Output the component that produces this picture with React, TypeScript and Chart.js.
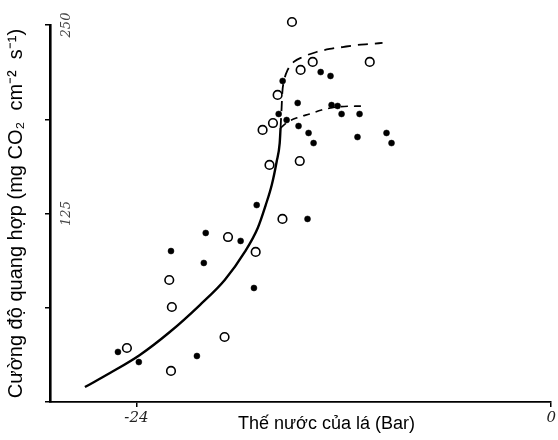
import React, { useEffect, useRef } from 'react';
import { Chart, registerables } from 'chart.js';

Chart.register(...registerables);

// Axis ticks
const xTickValues = [-24, 0];
const xTickLabels = ['-24', '0'];
const yTickValues = [0, 62.5, 125, 187.5, 250];
const yTickLabels = ['', '', '125', '', '250'];

const xTitle = 'Thế nước của lá (Bar)';
const yTitle = 'Cường độ quang hợp (mg CO₂  cm⁻²  s⁻¹)';

// Open circles (leaf water potential, photosynthesis rate)
const openX = [-15.0, -13.8, -14.5, -10.5, -15.83, -16.1, -16.7, -16.3, -14.55, -15.55, -18.7, -17.1, -22.1, -21.95, -18.9, -24.55, -22.0];
const openY = [252, 225.5, 220.2, 225.5, 203.6, 185.0, 180.4, 157.2, 159.8, 121.4, 109.4, 99.5, 80.9, 63.0, 43.1, 35.8, 20.6];

// Filled dots
const filledX = [-15.54, -14.67, -13.34, -12.77, -12.71, -12.36, -12.13, -11.09, -15.77, -15.31, -14.62, -14.04, -13.75, -11.21, -9.53, -9.24, -17.04, -14.1, -19.99, -17.97, -22.0, -20.1, -17.2, -20.5, -23.86, -25.07];
const filledY = [212.9, 198.3, 218.8, 216.2, 196.9, 196.3, 191.0, 191.0, 191.0, 187.0, 183.0, 178.4, 171.7, 175.7, 178.4, 171.7, 130.6, 121.4, 112.1, 106.8, 100.1, 92.2, 75.6, 30.5, 26.5, 33.2];

// Solid fitted curve
const solidX = [-26.98, -25.53, -23.8, -22.07, -20.33, -18.89, -17.73, -16.98, -16.52, -16.17, -15.89, -15.71, -15.66];
const solidY = [9.9, 19.2, 31.2, 46.4, 64.3, 80.9, 99.5, 115.4, 130.6, 143.9, 159.2, 171.7, 181.7];

// Upper dashed curve
const upperX = [-15.66, -15.6, -15.56, -15.45, -15.25, -14.9, -14.38, -13.58, -12.82, -12.07, -11.26, -10.51, -9.76];
const upperY = [181.7, 195.0, 205.0, 213.5, 220.2, 225.5, 228.8, 232.1, 234.1, 235.4, 236.7, 237.4, 238.1];

// Lower dashed curve
const lowerX = [-15.66, -15.25, -14.56, -13.98, -13.29, -12.42, -10.8];
const lowerY = [181.7, 185.7, 189.0, 191.0, 193.6, 195.6, 196.3];

const zip = (xs: number[], ys: number[]) => xs.map((x, i) => ({ x, y: ys[i] }));

const xTitlePlugin = {
  id: 'xTitlePlugin',
  afterDraw(chart: any) {
    const ctx = chart.ctx;
    ctx.save();
    ctx.font = '18px "Liberation Sans", Arial, sans-serif';
    ctx.fillStyle = '#000';
    ctx.textAlign = 'left';
    ctx.textBaseline = 'alphabetic';
    ctx.fillText(xTitle, 238, 429);
    ctx.restore();
  },
};

export default function App() {
  const canvasRef = useRef<HTMLCanvasElement | null>(null);

  useEffect(() => {
    if (!canvasRef.current) return;
    const chart = new Chart(canvasRef.current, {
      type: 'scatter',
      data: {
        datasets: [
          {
            data: zip(openX, openY),
            pointStyle: 'circle',
            pointRadius: 4.3,
            pointBorderWidth: 1.6,
            pointBorderColor: '#000',
            pointBackgroundColor: '#fff',
            showLine: false,
            clip: false,
          } as any,
          {
            data: zip(filledX, filledY),
            pointStyle: 'circle',
            pointRadius: 3,
            pointBorderWidth: 0.5,
            pointBorderColor: '#000',
            pointBackgroundColor: '#000',
            showLine: false,
            clip: false,
          } as any,
          {
            data: zip(solidX, solidY),
            showLine: true,
            borderColor: '#000',
            borderWidth: 2.4,
            pointRadius: 0,
            cubicInterpolationMode: 'monotone',
            fill: false,
          },
          {
            data: zip(upperX, upperY),
            showLine: true,
            borderColor: '#000',
            borderWidth: 1.8,
            borderDash: [10, 7],
            pointRadius: 0,
            cubicInterpolationMode: 'monotone',
            fill: false,
          },
          {
            data: zip(lowerX, lowerY),
            showLine: true,
            borderColor: '#000',
            borderWidth: 1.6,
            borderDash: [7, 6],
            pointRadius: 0,
            cubicInterpolationMode: 'monotone',
            fill: false,
          },
        ],
      },
      options: {
        animation: false,
        responsive: false,
        maintainAspectRatio: false,
        layout: { padding: { top: 25, right: 6, left: 0, bottom: 0 } },
        plugins: {
          legend: { display: false },
          tooltip: { enabled: false },
        },
        scales: {
          x: {
            type: 'linear',
            min: -29,
            max: 0,
            afterBuildTicks: (s: any) => {
              s.ticks = xTickValues.map((v) => ({ value: v }));
            },
            afterFit: (s: any) => {
              s.height = 38;
            },
            grid: {
              display: true,
              drawOnChartArea: false,
              tickLength: 5,
              color: '#000',
              lineWidth: 1.5,
            },
            border: { display: true, color: '#000', width: 1.8 },
            ticks: {
              autoSkip: false,
              maxRotation: 0,
              minRotation: 0,
              padding: 2,
              color: '#222',
              font: { family: '"DejaVu Serif", serif', style: 'italic', size: 15 },
              callback: (v: any) => {
                const i = xTickValues.indexOf(Number(v));
                return i >= 0 ? xTickLabels[i] : '';
              },
            },
          },
          y: {
            type: 'linear',
            min: 0,
            max: 250,
            afterBuildTicks: (s: any) => {
              s.ticks = yTickValues.map((v) => ({ value: v }));
            },
            afterFit: (s: any) => {
              s.width = 50;
            },
            grid: {
              display: true,
              drawOnChartArea: false,
              tickLength: 5,
              color: '#000',
              lineWidth: 1.5,
            },
            border: { display: true, color: '#000', width: 2.6 },
            ticks: {
              autoSkip: false,
              mirror: true,
              crossAlign: 'center',
              minRotation: 90,
              maxRotation: 90,
              padding: 4,
              color: '#444',
              font: { family: '"DejaVu Serif", serif', style: 'italic', size: 13 },
              callback: (v: any) => {
                const i = yTickValues.indexOf(Number(v));
                return i >= 0 ? yTickLabels[i] : '';
              },
            },
            title: {
              display: true,
              text: yTitle,
              color: '#000',
              font: { family: '"Liberation Sans", Arial, sans-serif', size: 20 },
              padding: { top: 4, bottom: 0 },
            },
          },
        },
      },
      plugins: [xTitlePlugin],
    } as any);
    return () => chart.destroy();
  }, []);

  return (
    <div style={{ position: 'absolute', left: 0, top: 0, width: 558, height: 440, background: '#fff' }}>
      <canvas ref={canvasRef} width={558} height={440} style={{ display: 'block' }} />
    </div>
  );
}
